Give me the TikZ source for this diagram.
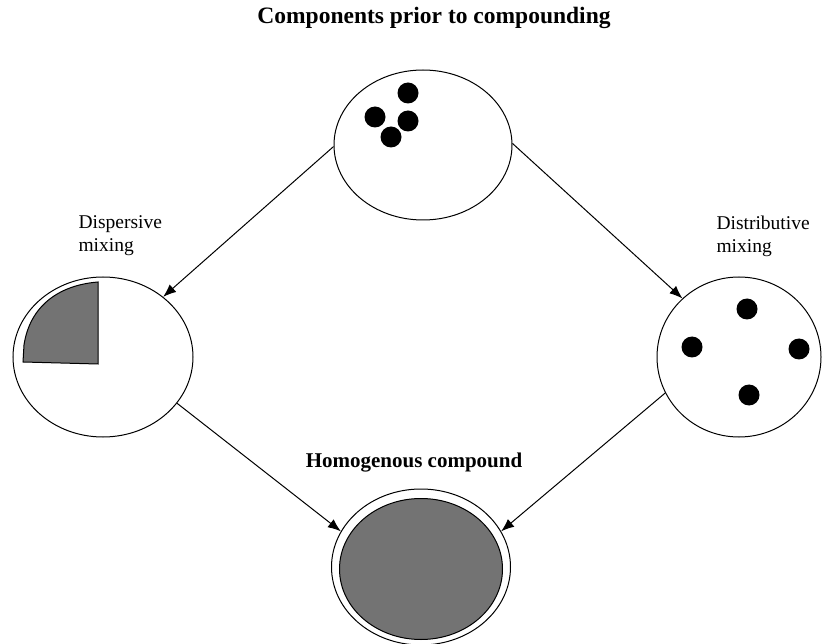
\documentclass[tikz,border=0pt]{standalone}
\usepackage{fontspec}
\setmainfont{Liberation Serif}
\usetikzlibrary{shapes.geometric,arrows.meta}

\tikzset{
  blob/.style={draw, ellipse, line width=1pt, inner sep=0pt},
  grain/.style={fill=black, circle, inner sep=0pt, minimum size=21pt},
  flow/.style={-{Latex[length=13pt,width=10pt]}, line width=1pt},
  shade/.style={fill=black!55},
  head/.style={font=\bfseries\fontsize{23.5}{28}\selectfont},
  side/.style={anchor=west, align=left, font=\fontsize{19.5}{23}\selectfont}
}

\begin{document}
\begin{tikzpicture}[x=1pt,y=-1pt]
\useasboundingbox (0,0) rectangle (825,644);

\node (title) at (434,18) [head]{Components prior to compounding};
\node (hlabel) at (414,463) [font=\bfseries\fontsize{21}{25}\selectfont]{Homogenous compound};
\node (dlabel) at (75,236) [side]{Dispersive\\mixing};
\node (rlabel) at (713,236) [side]{Distributive\\mixing};

% the four states
\node (top) at (423,145) [blob, minimum width=178pt, minimum height=150pt]{};
\node (left) at (103,357) [blob, minimum width=180pt, minimum height=160pt]{};
\node (right) at (739,357) [blob, minimum width=164pt, minimum height=160pt]{};
\node (bottom) at (421,567) [blob, minimum width=179pt, minimum height=156pt]{};
\node (core) at (421,569) [blob, shade, minimum width=163pt, minimum height=141pt]{};

% agglomerate before mixing
\node (g1) at (408,93) [grain]{};
\node (g2) at (375,117) [grain]{};
\node (g3) at (408,121) [grain]{};
\node (g4) at (391,137) [grain]{};

% spread out particles
\node (p1) at (747,309) [grain]{};
\node (p2) at (692,347) [grain]{};
\node (p3) at (799,349) [grain]{};
\node (p4) at (749,395) [grain]{};

% broken down piece
\draw [shade, line width=1pt] (98,282) -- (98,364) -- (23,362) -- (24,345)
  .. controls (30,305) and (60,285) .. (98,282) -- cycle;

\draw [flow] (top.181) -- (left.45);
\draw [flow] (top.1) -- (right.134);
\draw [flow] (left.328) -- (bottom.156);
\draw [flow] (right.206) -- (bottom.24);

\end{tikzpicture}
\end{document}
